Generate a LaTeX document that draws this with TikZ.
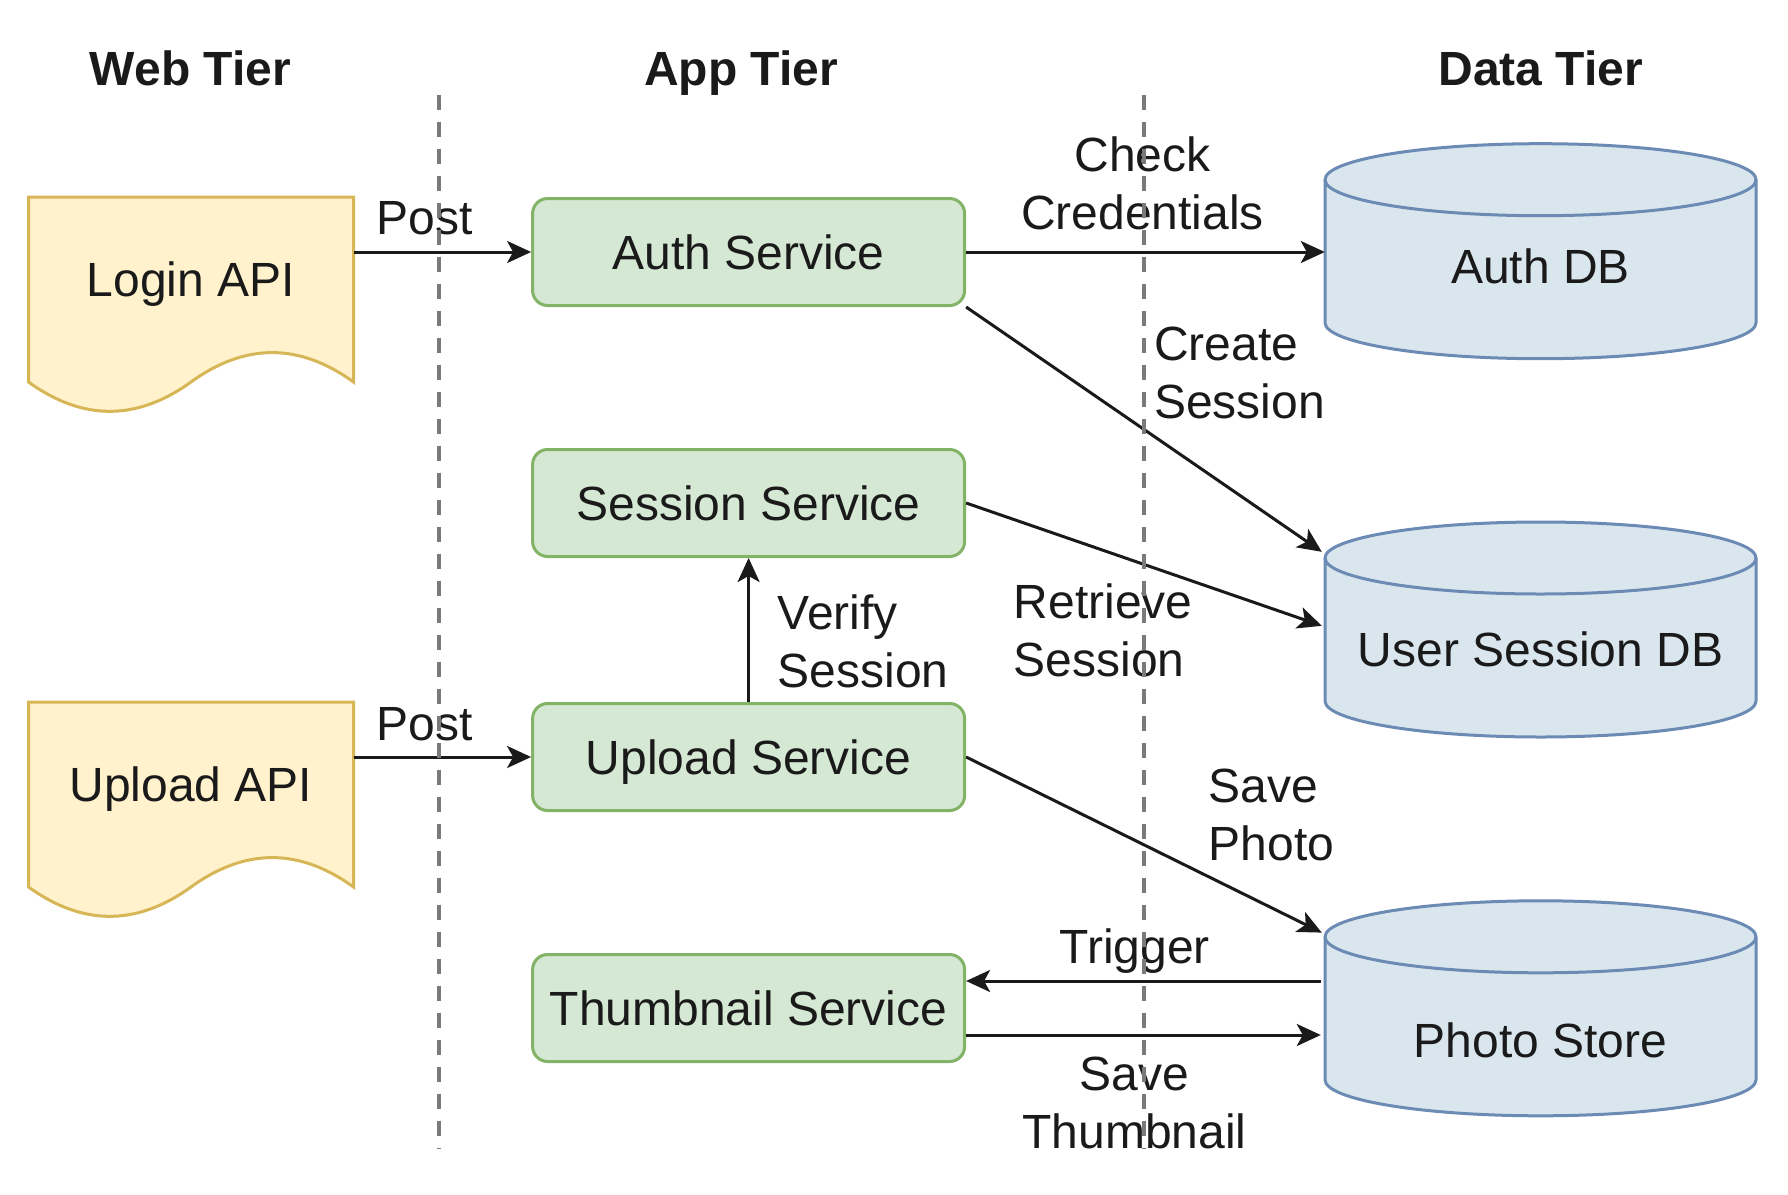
\documentclass[tikz,border=0pt]{standalone}
\usepackage{fontspec}
\setmainfont{Liberation Sans}
\usetikzlibrary{arrows.meta,calc}
\definecolor{gfill}{HTML}{D5E8D4}
\definecolor{gline}{HTML}{82B366}
\definecolor{yfill}{HTML}{FFF2CC}
\definecolor{yline}{HTML}{D6B656}
\definecolor{bfill}{HTML}{DAE6EE}
\definecolor{bline}{HTML}{6B8AB4}
\definecolor{tcol}{HTML}{1A1A1A}
\definecolor{dgray}{HTML}{7A7A7A}
\newcommand{\docshape}[4]{%
  \begin{scope}[shift={(#2,#3)}]
    \draw[yline, fill=yfill, line width=3pt] (0,0) -- (325,0) -- (325,185)
      .. controls (270.8,145.8) and (216.7,145.8) .. (162.5,185)
      .. controls (108.3,224.1) and (54.2,224.1) .. (0,185) -- cycle;
    \node[lbl, one, minimum width=325pt] (#1) at (162.5,82) {#4};
  \end{scope}}
\newcommand{\cylshape}[5]{%
  \begin{scope}[shift={(#2,#3)}]
    \draw[bline, fill=bfill, line width=3pt] (0,36) -- (0,179)
      arc[start angle=180, end angle=360, x radius=215.5pt, y radius=36pt]
      -- (431,36)
      arc[start angle=0, end angle=180, x radius=215.5pt, y radius=36pt] -- cycle;
    \draw[bline, line width=3pt] (0,36)
      arc[start angle=180, end angle=360, x radius=215.5pt, y radius=36pt];
    \node[minimum width=431pt, minimum height=215pt, inner sep=0pt] (#1) at (215.5,107.5) {};
    \node[lbl, one] (#1t) at (215.5,#5) {#4};
  \end{scope}}
\begin{document}
\begin{tikzpicture}[x=1pt, y=-1pt,
  font=\fontsize{48}{58}\selectfont,
  one/.style={text height=34.4pt, text depth=0pt},
  lbl/.style={text=tcol, align=center, inner sep=0pt},
  lbll/.style={text=tcol, align=left, inner sep=0pt, anchor=west},
  svc/.style={draw=gline, fill=gfill, line width=3pt, rounded corners=15pt,
    minimum width=432pt, minimum height=107pt, text=tcol, inner sep=0pt, one},
  conn/.style={draw=tcol, line width=3pt, -{Stealth[length=24pt,width=22pt,inset=6pt]}},
  tierline/.style={draw=dgray, line width=3.5pt, dash pattern=on 15pt off 12pt},
  title/.style={font=\fontsize{48}{58}\selectfont\bfseries, text=tcol, inner sep=0pt, one}]
\useasboundingbox (0,0) rectangle (1788,1194);

% titles
\node[title] (tweb) at (190.4,68.4) {Web Tier};
\node[title] (tapp) at (741.2,68.4) {App Tier};
\node[title] (tdata) at (1540.6,68.4) {Data Tier};

% web tier documents
\docshape{login}{28.5}{197}{Login API}
\docshape{upapi}{28.5}{702}{Upload API}

% app tier services
\node[svc] (auth) at (748.6,252) {Auth Service};
\node[svc] (sess) at (748.6,503) {Session Service};
\node[svc] (upl) at (748.6,757) {Upload Service};
\node[svc] (thumb) at (748.6,1008) {Thumbnail Service};

% data tier
\cylshape{authdb}{1325}{143.7}{Auth DB}{123}
\cylshape{usdb}{1325}{522}{User Session DB}{126.8}
\cylshape{photo}{1325}{900.8}{Photo Store}{139}

% connectors
\draw[conn] (login.east |- auth.west) -- (auth.west);
\draw[conn] (upapi.east |- upl.west) -- (upl.west);
\draw[conn] (auth.east) -- (authdb.west |- auth.east);
\draw[conn] (auth.south east) -- ($(usdb.north west)+(-3,30)$);
\draw[conn] (sess.east) -- ($(usdb.north west)+(-3,104)$);
\draw[conn] (upl.north) -- (sess.south);
\draw[conn] (upl.east) -- ($(photo.north west)+(-3,32)$);
\draw[conn] ($(photo.west |- thumb.east)+(-4,-27)$) -- ($(thumb.east)+(0,-27)$);
\draw[conn] ($(thumb.east)+(0,27)$) -- ($(photo.west |- thumb.east)+(-4,27)$);

% labels
\node[lbl, one] (lpost1) at (425,217) {Post};
\node[lbl, one] (lpost2) at (425,723) {Post};
\node[lbl] (lcheck) at (1142.6,183) {Check\\Credentials};
\node[lbll] (lcreate) at (1154,373) {Create\\Session};
\node[lbll] (lretr) at (1013.7,630.6) {Retrieve\\Session};
\node[lbll] (lverify) at (777.7,641) {Verify\\Session};
\node[lbll] (lsave) at (1208.7,815.3) {Save\\Photo};
\node[lbl, one] (ltrig) at (1134.6,946.4) {Trigger};
\node[lbl] (lsavet) at (1134.6,1102.6) {Save\\Thumbnail};

% tier separators
\coordinate (s1a) at (439,94.6);
\coordinate (s1b) at (439,1149.4);
\coordinate (s2a) at (1144,94.6);
\coordinate (s2b) at (1144,1149.4);
\draw[tierline] (s1a) -- (s1b);
\draw[tierline] (s2a) -- (s2b);
\end{tikzpicture}
\end{document}
